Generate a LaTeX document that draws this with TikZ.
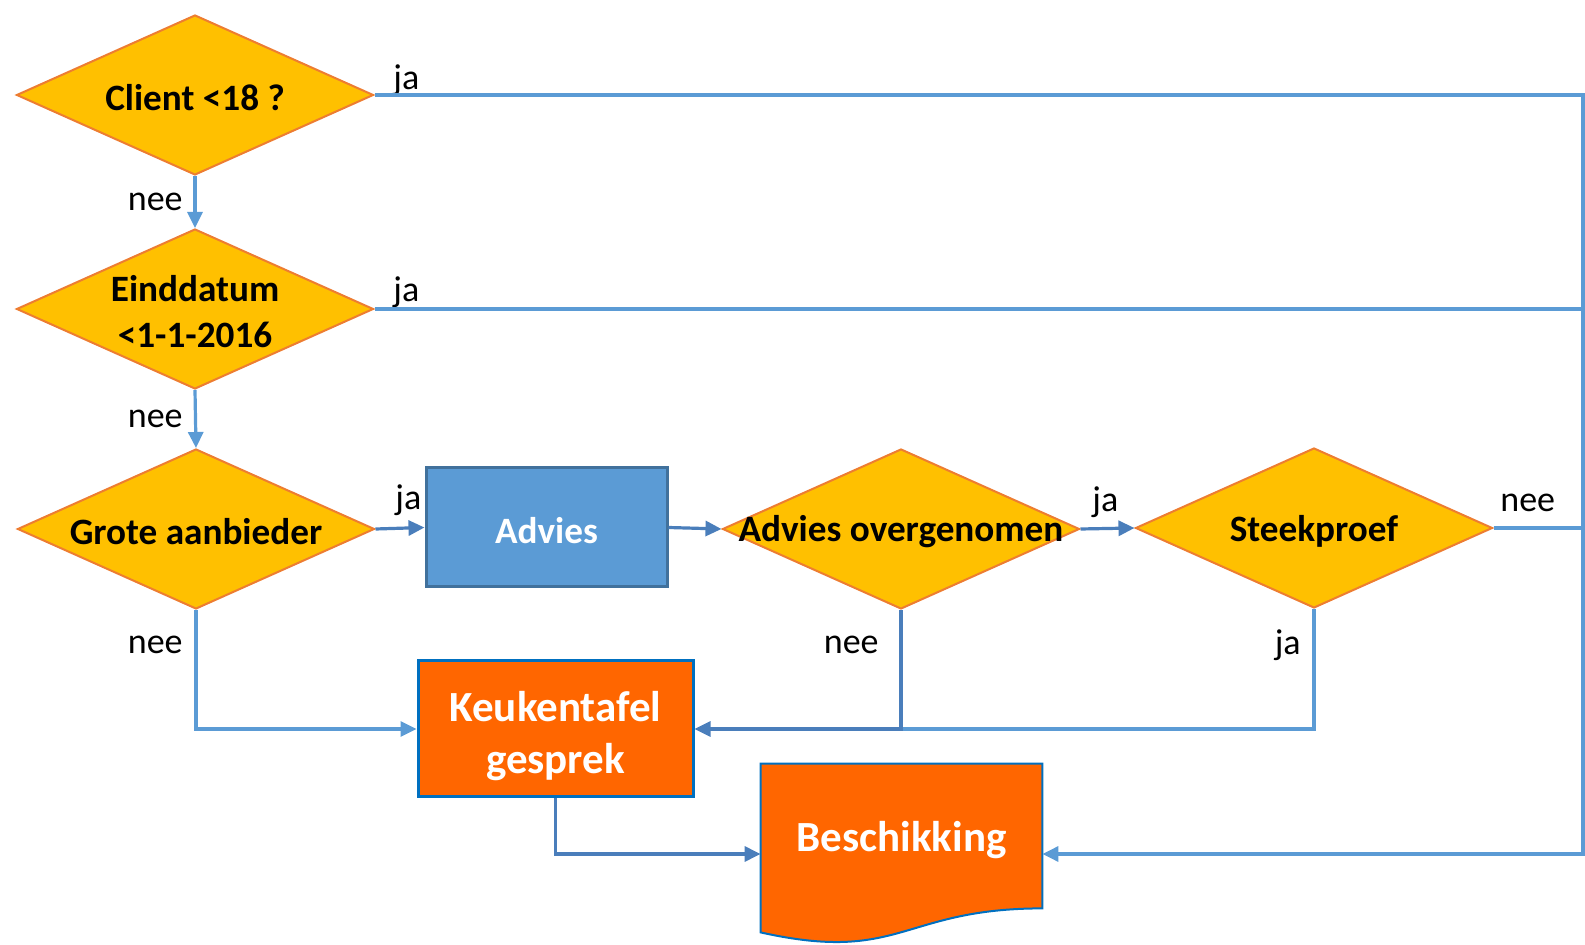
\documentclass[tikz,border=0pt]{standalone}
\usepackage{fontspec}
\setmainfont{Carlito}
\usetikzlibrary{shapes.geometric,arrows.meta,calc,backgrounds}
\definecolor{gold}{HTML}{FFC000}
\definecolor{rim}{HTML}{ED7D31}
\definecolor{flow}{HTML}{5B9BD5}
\definecolor{flowdark}{HTML}{4A7EBB}
\definecolor{adviesrim}{HTML}{41719C}
\definecolor{fire}{HTML}{FF6600}
\definecolor{firerim}{HTML}{0070C0}
\begin{document}
\begin{tikzpicture}[x=0.5pt, y=-0.5pt,
	every node/.style={inner sep=0pt},
	every label/.style={font=\bfseries\fontsize{18.6}{23}\selectfont, align=center, yshift=-1.5pt},
	white text/.style={font=\bfseries\fontsize{21.5}{26}\selectfont, text=white},
	decision/.style={diamond, draw=rim, fill=gold, line width=1pt, minimum width=178.5pt, minimum height=80pt},
	process/.style={rectangle, draw=adviesrim, fill=flow, line width=1.5pt, minimum width=120.5pt, minimum height=59.5pt},
	talk/.style={rectangle, draw=firerim, fill=fire, line width=1.5pt, minimum width=137.5pt, minimum height=68pt},
	doc/.style={rectangle, minimum width=140.5pt, minimum height=90pt},
	lbl/.style={font=\fontsize{18}{22}\selectfont},
	line/.style={draw=flow, line width=1.6pt},
	arr/.style={line, -{Triangle[length=8pt, width=7.5pt]}}]
	\useasboundingbox (0,0) rectangle (1585,945);
	
	\node[decision, label=center:Client <18 ?] (cli) at (195,95) {};
	\node[decision, label=center:{Einddatum\\<1-1-2016}] (eind) at (195,309) {};
	\node[decision, label=center:Grote aanbieder] (grote) at (196,529) {};
	\node[process, label={[text=white]center:Advies}] (adv) at (546.5,527.5) {};
	\node[decision, label=center:Advies overgenomen] (advov) at (901,529) {};
	\node[decision, label=center:Steekproef] (steek) at (1314,528) {};
	\node[talk, label={[white text, yshift=-2pt]center:{Keukentafel\\gesprek}}] (keuk) at (555.5,729) {};
	\node[doc, label={[white text, yshift=8.5pt]center:Beschikking}] (bes) at (901.5,854) {};
	\begin{scope}[on background layer]
		\filldraw[draw=firerim, fill=fire, line width=1pt] (bes.north west) -- (bes.north east) -- ($(bes.south east)+(0,-36)$) .. controls ($(bes.south)+(0,-36)$) and ($(bes.south)+(0,19.4)$) .. ($(bes.south west)+(0,-12)$) -- cycle;
	\end{scope}
	\coordinate (rail) at (1583,0);
	
	% ja / nee
	\node[lbl, anchor=base west] (ja1) at (393,90) {ja};
	\node[lbl, anchor=base east] (nee1) at (183,211) {nee};
	\node[lbl, anchor=base west] (ja2) at (393,302) {ja};
	\node[lbl, anchor=base east] (nee2) at (183,428) {nee};
	\node[lbl, anchor=base west] (ja3) at (395,510) {ja};
	\node[lbl, anchor=base east] (nee3) at (183,654) {nee};
	\node[lbl, anchor=base west] (ja4) at (1092,512) {ja};
	\node[lbl, anchor=base east] (nee4) at (879,654) {nee};
	\node[lbl, anchor=base east] (ja5) at (1301,655) {ja};
	\node[lbl, anchor=base west] (nee5) at (1500,512) {nee};
	
	\foreach \from/\to in {cli/eind,eind/grote}
	\draw[arr] (\from.south) -- (\to.north);
	\foreach \from/\to in {grote/adv,adv/advov,advov/steek}
	\draw[arr, draw=flowdark] (\from.east) -- (\to.west);
	
	\draw[arr] (cli.east) -- (cli.east -| rail) |- (bes.east);
	\draw[line] (eind.east) -- (eind.east -| rail);
	\draw[line] (steek.east) -- (steek.east -| rail);
	\draw[arr] (grote.south) |- (keuk.west);
	\draw[line] (steek.south) |- (advov.south |- keuk.east);
	\draw[arr, draw=flowdark] (advov.south) |- (keuk.east);
	\draw[arr, draw=flowdark] (keuk.south) |- (bes.west);
\end{tikzpicture}
\end{document}
